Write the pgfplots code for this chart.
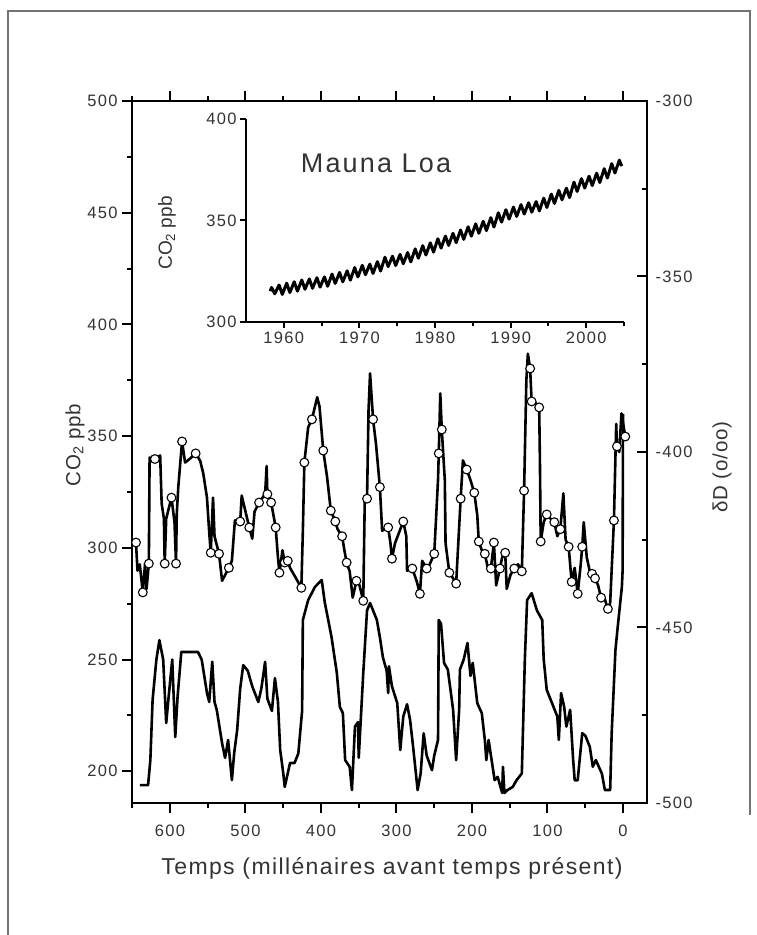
\documentclass[border=0pt]{standalone}
\usepackage{fontspec}
\setmainfont{Liberation Sans}
\usepackage{pgfplots}
\pgfplotsset{compat=1.18}
\definecolor{txt}{HTML}{333333}
\newcommand{\tl}{\fontsize{16.5bp}{18bp}\selectfont\addfontfeatures{LetterSpace=8}}
\newcommand{\lab}{\fontsize{20.5bp}{23bp}\selectfont\addfontfeatures{LetterSpace=4}}

% CO2 (ppb axis), ka before present
\pgfplotstableread{
ka co2
640 193.8
629 193.8
626 205
623 232
618 250
614 258.7
609 250
605 221.6
601 236
597 250
593 215.3
590 233
585 253.4
563 253.4
558 250
551 235
548 231
544 249
541 231
538 227.4
531 212.6
527 206
523 214
518 196
515 208
511 218.5
507 237
503 247.5
497 245
491 238
483 231
479 237
474 249
471 232.5
465 227
461 241.7
457 231
454 209.5
450 199.2
448 193
441 203.7
435 203.7
430 208
425 227
424 267.7
417 276.6
408 282.5
399 285.6
395 275.6
390 267
386 260
379 244
375 228.8
371 226
368 205
362 202
359 191.6
355 220
351 222
350 206
344 244
339 272
335 275.3
326 267.7
322 260
318 251
313 245
311 235
310 247
306 238
299 230.5
295 209.5
291 224.5
286 230
282 223
278 211
272 191.6
268 199
264 217
260 207
253 200.5
250 207
245 214
244 267.7
241 266
237 248.5
232 245.5
225 227.5
221 205
217 227.5
216 245.5
211 250
206 257.4
202 242.7
199 248.5
193 230.5
187 226
183 214
181 205
178 214
174 205
170 196
166 197.5
160 190.3
159 202
157 190.3
153 191.6
146 193
141 196
134 199
130 250
127 276.6
121 279.7
114 272
107 267.7
105 250
101 236.4
94 230.5
87 224.5
85 214
82 235
78 229
75 220
70 227.5
66 205
64 196
60 196
54 217
50 216
44 211
40 202
36 205
28 199
24 191.6
17 191.6
15 217
10 254.3
7 264.6
1.5 282.5
0.5 290
0 360
}\co

% deuterium, per mil
\pgfplotstableread{
ka dD
645 -425.8
643 -433.8
640 -432
636 -440
633 -431.8
631 -439
628 -431.8
627 -401.6
620 -402
613 -401
611 -414.7
608 -419
607 -431.8
605 -419
598 -413
594 -420
592 -431.8
591 -417.6
589 -410
584 -397
580 -403
574 -402
566 -400.4
560 -402.5
556 -406
551 -413
548 -423
546 -428.7
543 -413
541 -424
535 -429
531 -436.7
522 -433
518 -431
514 -419.5
507 -419.8
505 -412.4
495 -421.5
491 -424.7
488 -417
482 -414.4
474 -412
472 -404
471 -412
466 -414.4
460 -421.5
457 -430
455 -434.4
451 -428
448 -431.5
444 -431
441 -433
433 -436
426 -438.7
424 -422.4
422 -403
417 -393
412 -390.7
405 -384.4
402 -387
397 -399.6
392 -407
387 -416.7
381 -419.8
378 -422
372 -424
369 -428
366 -431.5
362 -434
358 -441.5
353 -436.7
349 -438
344 -442.4
342 -413.3
339 -413.3
337 -388
335 -377.6
331 -390.7
327 -398
322 -410
319 -422.4
311 -421.5
308 -426
306 -430.4
302 -426
291 -419.8
287 -424
286 -433.8
279 -433.2
273 -437
269 -440.4
266 -431
260 -433.2
256 -432
250 -429
245 -408
244 -400.4
242 -383.3
240 -393.6
236 -408
235 -426
230 -434.4
225 -436
221 -437.5
215 -413.3
212 -402.4
207 -405
202 -408
197 -411.6
193 -418
191 -425.5
187 -428
183 -429
179 -433
175 -433.2
171 -425.8
168 -438
163 -433.2
160 -430
156 -428.7
154 -439
149 -435
144 -433.2
139 -432
134 -434
131 -411
128 -379.6
126 -372
123 -376.2
121 -385.6
116 -386
111 -387.3
110 -403.3
109 -425.5
105 -420
101 -417.8
96 -419
91 -420
87 -424
83 -422
79 -411.8
76 -425
72 -427
68 -437
64 -433
60 -440.4
56 -432
54 -427
52 -420
48 -430
44 -434
41 -434.7
37 -436
33 -438
29 -441.5
24 -442
20 -444.7
17 -443
12 -419.5
9 -392
8 -398.4
5 -400
2 -389
-3 -395.6
}\dd

% points shown with circles
\pgfplotstableread{
ka dD
645 -425.8
636 -440
628 -431.8
620 -402
607 -431.8
598 -413
592 -431.8
584 -397
566 -400.4
546 -428.7
535 -429
522 -433
507 -419.8
495 -421.5
482 -414.4
471 -412
466 -414.4
460 -421.5
455 -434.4
448 -431.5
444 -431
426 -438.7
422 -403
412 -390.7
397 -399.6
387 -416.7
381 -419.8
372 -424
366 -431.5
353 -436.7
344 -442.4
339 -413.3
331 -390.7
322 -410
311 -421.5
306 -430.4
291 -419.8
279 -433.2
269 -440.4
260 -433.2
250 -429
244 -400.4
240 -393.6
230 -434.4
221 -437.5
215 -413.3
207 -405
197 -411.6
191 -425.5
183 -429
175 -433.2
171 -425.8
163 -433.2
156 -428.7
144 -433.2
134 -434
131 -411
123 -376.2
121 -385.6
111 -387.3
109 -425.5
101 -417.8
91 -420
83 -422
72 -427
68 -437
60 -440.4
54 -427
41 -434.7
37 -436
29 -441.5
20 -444.7
12 -419.5
8 -398.4
-3 -395.6
}\ddc

% Mauna Loa, seasonal high and low of each year
\pgfplotstableread{
yr co2
1958.20 315.2
1958.38 317.0
1958.80 313.9
1959.38 318.2
1959.80 313.6
1960.38 319.1
1960.80 314.5
1961.38 319.8
1961.80 315.2
1962.38 320.7
1962.80 316.1
1963.38 321.2
1963.80 316.6
1964.38 321.8
1964.80 317.2
1965.38 322.2
1965.80 317.6
1966.38 323.6
1966.80 319.0
1967.38 324.4
1967.80 319.8
1968.38 325.2
1968.80 320.6
1969.38 326.8
1969.80 322.2
1970.38 327.9
1970.80 323.3
1971.38 328.5
1971.80 323.9
1972.38 329.7
1972.80 325.1
1973.38 331.9
1973.80 327.3
1974.38 332.4
1974.80 327.8
1975.38 333.3
1975.80 328.7
1976.38 334.2
1976.80 329.6
1977.38 336.0
1977.80 331.4
1978.38 337.6
1978.80 333.0
1979.38 339.0
1979.80 334.4
1980.38 341.0
1980.80 336.4
1981.38 342.3
1981.80 337.7
1982.38 343.7
1982.80 339.1
1983.38 345.3
1983.80 340.7
1984.38 346.9
1984.80 342.3
1985.38 348.3
1985.80 343.7
1986.38 349.6
1986.80 345.0
1987.38 351.4
1987.80 346.8
1988.38 353.8
1988.80 349.2
1989.38 355.3
1989.80 350.7
1990.38 356.6
1990.80 352.0
1991.38 357.8
1991.80 353.2
1992.38 358.7
1992.80 354.1
1993.38 359.3
1993.80 354.7
1994.38 361.0
1994.80 356.4
1995.38 363.0
1995.80 358.4
1996.38 364.8
1996.80 360.2
1997.38 365.9
1997.80 361.3
1998.38 368.9
1998.80 364.3
1999.38 370.6
1999.80 366.0
2000.38 371.8
2000.80 367.2
2001.38 373.3
2001.80 368.7
2002.38 375.5
2002.80 370.9
2003.38 378.0
2003.80 373.4
2004.38 379.7
2004.70 376.8
}\ml

\begin{document}
\begin{tikzpicture}[x=1bp,y=1bp]
\useasboundingbox (0,0) rectangle (757,935);
\draw[black!55, line width=1.3bp] (8,0) -- (8,924) -- (750,924) -- (750,120);

\pgfplotsset{
  every axis/.append style={
    scale only axis, anchor=south west,
    axis line style={line width=2.3bp},
    every tick/.style={line width=2bp, black},
    major tick length=10bp, minor tick length=5bp,
    tick label style={font=\tl, text=txt},
    /pgf/number format/assume math mode=true,
    /pgf/number format/1000 sep={},
  },
}

% left axis: CO2
\begin{axis}[
  at={(132bp,132bp)}, width=515bp, height=702bp,
  x dir=reverse, xmin=-31.8, xmax=650.3, ymin=185.8, ymax=500,
  xtick={0,100,...,600}, minor xtick={50,150,...,650},
  ytick={200,250,...,500}, minor ytick={225,275,...,475},
  tick align=outside, xtick pos=both, ytick pos=left,
  xticklabel pos=bottom,
  xticklabel style={yshift=-8bp},
  yticklabel style={xshift=-1bp},
]
\addplot[black, line width=2.6bp, line join=round] table[x=ka, y=co2] {\co};
\end{axis}

% right axis: deuterium
\begin{axis}[
  at={(132bp,132bp)}, width=515bp, height=702bp,
  x dir=reverse, xmin=-31.8, xmax=650.3, ymin=-500, ymax=-300,
  hide x axis, axis y line*=right,
  ytick={-500,-450,...,-300}, minor ytick={-475,-425,...,-325},
  yticklabels={-500,-450,-400,-350,-300},
  yticklabel style={xshift=5bp},
  tick align=inside,
]
\addplot[black, line width=2.6bp, line join=round] table[x=ka, y=dD] {\dd};
\addplot[only marks, mark=*, mark size=4.4bp,
  mark options={fill=white, draw=black, line width=1.1bp}] table[x=ka, y=dD] {\ddc};
\end{axis}

% inset: Mauna Loa
\begin{axis}[
  at={(246bp,613bp)}, width=378bp, height=203bp,
  xmin=1955, xmax=2005, ymin=300, ymax=400,
  axis x line*=bottom, axis y line*=left, axis line style={-},
  xtick={1960,1970,...,2000}, minor xtick={1965,1975,...,2005},
  ytick={300,350,400},
  tick align=outside, major tick length=6bp, minor tick length=4bp,
]
\addplot[black, line width=3bp, line join=round] table[x=yr, y=co2] {\ml};
\end{axis}

\node[text=txt, font=\fontsize{27bp}{31bp}\selectfont\addfontfeatures{LetterSpace=8}] at (376,772) {Mauna Loa};
\node[text=txt, rotate=90, font=\fontsize{19bp}{22bp}\selectfont] at (167,702) {CO\textsubscript{2} ppb};
\node[text=txt, rotate=90, font=\lab] at (75,490) {CO\textsubscript{2} ppb};
\node[text=txt, rotate=90, font=\lab] at (722,468) {δD (o/oo)};
\node[text=txt, font=\fontsize{23bp}{27bp}\selectfont\addfontfeatures{LetterSpace=6}] at (392,67) {Temps (millénaires avant temps présent)};
\end{tikzpicture}
\end{document}
